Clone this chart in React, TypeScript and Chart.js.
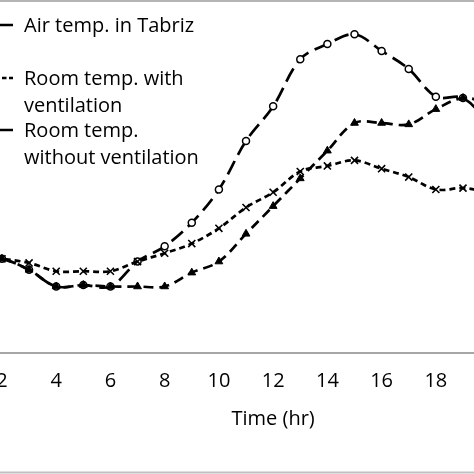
import { useEffect, useRef } from 'react';
import { Chart, registerables } from 'chart.js';

Chart.register(...registerables);

const HOURS = [1, 2, 3, 4, 5, 6, 7, 8, 9, 10, 11, 12, 13, 14, 15, 16, 17, 18, 19, 20];
const AIR = [22.0, 21.8, 21.0, 19.8, 19.9, 19.8, 21.6, 22.7, 24.4, 26.8, 30.3, 32.8, 36.2, 37.3, 38.0, 36.8, 35.5, 33.5, 33.4, 31.5];
const VENT = [22.0, 21.8, 21.5, 20.9, 20.9, 20.9, 21.6, 22.2, 22.9, 24.0, 25.5, 26.6, 28.1, 28.5, 28.9, 28.3, 27.7, 26.8, 26.9, 26.6];
const NO_VENT = [22.0, 21.8, 21.0, 19.8, 19.9, 19.8, 19.8, 19.8, 20.8, 21.6, 23.6, 25.6, 27.6, 29.6, 31.6, 31.6, 31.5, 32.6, 33.4, 33.0];
const X_TICKS = [0, 2, 4, 6, 8, 10, 12, 14, 16, 18, 20, 22, 24];
const LABELS = ['Air temp. in Tabriz', 'Room temp. with ventilation', 'Room temp. without ventilation'];
const LEGEND_TEXT = [['Air temp. in Tabriz'], ['Room temp. with', 'ventilation'], ['Room temp.', 'without ventilation']];

const FONT = '"Open Sans", Lato, sans-serif';
const SHIFT = 74; // canvas x of page x = 0

const pts = (ys: number[]) => HOURS.map((h, i) => ({ x: h, y: ys[i] }));

const framePlugin = {
  id: 'frame',
  afterDraw(chart: Chart) {
    const { ctx, width } = chart;
    ctx.save();
    ctx.fillStyle = '#b4b4b4';
    ctx.fillRect(0, 0, width, 2);
    ctx.fillStyle = '#c0c0c0';
    ctx.fillRect(0, 471.5, width, 2);

    // legend, drawn partly off the left edge like the cropped original
    const rows = [
      { ly: 25, base: [32], dash: [30, 0] },
      { ly: 78, base: [85, 112], dash: [4.5, 2.5] },
      { ly: 130, base: [137, 164], dash: [30, 0] },
    ];
    rows.forEach((r, i) => {
      ctx.strokeStyle = '#000';
      ctx.lineWidth = 2.5;
      ctx.setLineDash(r.dash);
      ctx.beginPath();
      ctx.moveTo(SHIFT - 12, r.ly);
      ctx.lineTo(SHIFT + 13, r.ly);
      ctx.stroke();
      ctx.setLineDash([]);
      ctx.fillStyle = '#000';
      ctx.font = `20px ${FONT}`;
      ctx.textBaseline = 'alphabetic';
      ctx.textAlign = 'left';
      LEGEND_TEXT[i].forEach((t, j) => ctx.fillText(t, SHIFT + 24, r.base[j]));
    });
    ctx.restore();
  },
};

export default function App() {
  const ref = useRef<HTMLCanvasElement>(null);
  const ci = useRef<Chart | null>(null);

  useEffect(() => {
    if (!ref.current) return;
    ci.current?.destroy();
    const common = { borderColor: '#000', borderWidth: 2.7, tension: 0.35, pointBorderColor: '#000', fill: false };
    ci.current = new Chart(ref.current, {
      type: 'line',
      data: {
        datasets: [
          { ...common, order: 3, label: LABELS[0], data: pts(AIR), borderDash: [15, 7], pointStyle: 'circle', pointRadius: 3.5, pointBackgroundColor: '#fff', pointBorderWidth: 1.5 },
          { ...common, order: 2, label: LABELS[1], data: pts(VENT), borderDash: [6, 4], pointStyle: 'crossRot', pointRadius: 5, pointBackgroundColor: '#000', pointBorderWidth: 1.6 },
          { ...common, order: 1, label: LABELS[2], data: pts(NO_VENT), borderDash: [10, 6], pointStyle: 'triangle', pointRadius: 4.5, pointBackgroundColor: '#000', pointBorderWidth: 1 },
        ],
      },
      options: {
        responsive: true, maintainAspectRatio: false, animation: false,
        layout: { padding: { left: 20, right: 20, top: 5, bottom: 0 } },
        plugins: { legend: { display: false }, tooltip: { enabled: false } },
        scales: {
          x: {
            type: 'linear', min: 0, max: 24,
            afterBuildTicks: (s: any) => { s.ticks = X_TICKS.map(v => ({ value: v })); },
            afterFit: (s: any) => { s.height = 121; },
            grid: { display: false, drawTicks: false },
            border: { display: true, color: '#a6a6a6', width: 2 },
            ticks: { color: '#000', font: { family: FONT, size: 20 }, padding: 16, maxRotation: 0, autoSkip: false },
            title: { display: true, text: 'Time (hr)', color: '#000', font: { family: FONT, size: 20 }, padding: { top: 0, bottom: 43 } },
          },
          y: { display: false, min: 15, max: 40 },
        },
      },
      plugins: [framePlugin],
    });
    return () => { ci.current?.destroy(); ci.current = null; };
  }, []);

  return (
    <div style={{ position: 'absolute', left: 0, top: 0, width: 474, height: 474, overflow: 'hidden', background: '#fff' }}>
      <div style={{ position: 'absolute', left: -SHIFT, top: 0, width: 700, height: 474 }}>
        <canvas ref={ref} />
      </div>
    </div>
  );
}
